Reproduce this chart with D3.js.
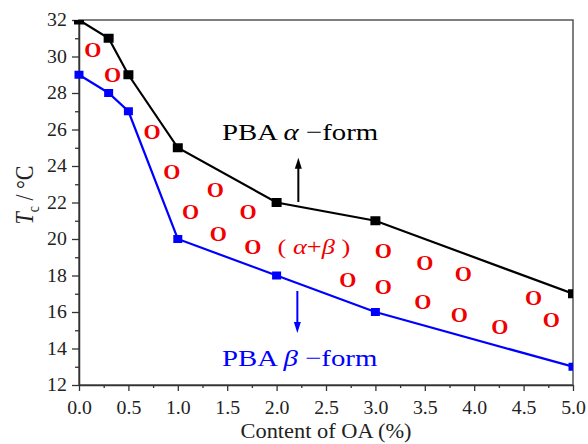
<!DOCTYPE html>
<html>
<head>
<meta charset="utf-8">
<script src="https://cdn.jsdelivr.net/npm/d3@7"></script>
<style>
  body { margin: 0; background: #fff; }
  svg text { font-family: 'Liberation Serif', 'DejaVu Serif', serif; }
</style>
</head>
<body>
<div id="chart"></div>
<script>
// ── Data ──
const oaContent = [0, 0.3, 0.5, 1, 2, 3, 5];
const alphaTc = [32, 31, 29, 25, 22, 21, 17];
const betaTc = [29, 28, 27, 20, 18, 16, 13];

// "O" marks inside the alpha+beta region
const mixX = [0.14, 0.34, 0.74, 0.94, 1.38, 1.13, 1.71, 1.41, 1.76, 3.08, 3.50, 3.89, 2.72, 3.08, 3.48, 3.85, 4.26, 4.60, 4.78];
const mixY = [30.4, 29.0, 25.9, 23.7, 22.7, 21.5, 21.5, 20.3, 19.6, 19.4, 18.7, 18.1, 17.8, 17.4, 16.6, 15.9, 15.2, 16.8, 15.6];

const xTicks = [0, 0.5, 1, 1.5, 2, 2.5, 3, 3.5, 4, 4.5, 5];
const xMinor = [0.25, 0.75, 1.25, 1.75, 2.25, 2.75, 3.25, 3.75, 4.25, 4.75];
const yTicks = [12, 14, 16, 18, 20, 22, 24, 26, 28, 30, 32];
const yMinor = [13, 15, 17, 19, 21, 23, 25, 27, 29, 31];

const SERIF = "'Liberation Serif', 'DejaVu Serif', serif";
const RED = '#f00000';
const BLUE = '#0000ff';

const width = 588, height = 444;
const margin = { top: 20, right: 15, bottom: 59, left: 79 };
const innerW = width - margin.left - margin.right;
const innerH = height - margin.top - margin.bottom;

const svg = d3.select('#chart').append('svg')
    .attr('width', width)
    .attr('height', height);

const g = svg.append('g').attr('transform', `translate(${margin.left},${margin.top})`);

const x = d3.scaleLinear().domain([0, 5]).range([0, innerW]);
const y = d3.scaleLinear().domain([12, 32]).range([innerH, 0]);

// ── Frame ──
g.append('rect')
    .attr('width', innerW).attr('height', innerH)
    .attr('fill', 'none').attr('stroke', '#555').attr('stroke-width', 1.5);

// ── Axes ──
function styleAxis(sel) {
    sel.attr('font-family', SERIF);
    sel.select('.domain').attr('stroke', '#333').attr('stroke-width', 1.5);
    sel.selectAll('.tick line').attr('stroke', '#333').attr('stroke-width', 1.3);
    sel.selectAll('text')
        .style('font-family', SERIF).attr('font-size', '18px').attr('fill', '#222')
        .attr('transform', 'scale(1.1,1)');
}

g.append('g').attr('transform', `translate(0,${innerH})`)
    .call(d3.axisBottom(x).tickValues(xMinor).tickSize(3).tickFormat('').tickSizeOuter(0))
    .call(s => s.select('.domain').remove())
    .selectAll('line').attr('stroke', '#333').attr('stroke-width', 1.3);

g.append('g').attr('transform', `translate(0,${innerH})`)
    .call(d3.axisBottom(x).tickValues(xTicks).tickFormat(d3.format('.1f'))
        .tickSize(6).tickPadding(10).tickSizeOuter(0))
    .call(styleAxis);

g.append('g')
    .call(d3.axisLeft(y).tickValues(yMinor).tickSize(4).tickFormat('').tickSizeOuter(0))
    .call(s => s.select('.domain').remove())
    .selectAll('line').attr('stroke', '#333').attr('stroke-width', 1.3);

g.append('g')
    .call(d3.axisLeft(y).tickValues(yTicks).tickFormat(d3.format('d'))
        .tickSize(7).tickPadding(4).tickSizeOuter(0))
    .call(styleAxis);

// ── Axis titles ──
g.append('text')
    .attr('transform', `translate(${innerW / 2},${height - margin.top - 6}) scale(1.12,1)`)
    .attr('text-anchor', 'middle')
    .style('font-family', SERIF).attr('font-size', '20px').attr('fill', '#222')
    .text('Content of OA (%)');

const yTitle = g.append('text')
    .attr('transform', `translate(${33 - margin.left},${195 - margin.top}) rotate(-90) scale(1,1.15)`)
    .attr('text-anchor', 'middle')
    .style('font-family', SERIF).attr('font-size', '22px').attr('fill', '#222');
yTitle.append('tspan').attr('font-style', 'italic').text('T');
yTitle.append('tspan').attr('font-size', '14px').attr('dy', 5).text('c');
yTitle.append('tspan').attr('dy', -5).text(' / °C');

// ── Series ──
const plot = g.append('g').attr('clip-path', 'url(#plot-clip)');
svg.append('defs').append('clipPath').attr('id', 'plot-clip')
    .append('rect').attr('x', -8).attr('y', 0).attr('width', innerW + 8).attr('height', innerH);

const line = d3.line().x(d => x(d[0])).y(d => y(d[1]));

function drawSeries(vals, color, w, h) {
    const pts = oaContent.map((v, i) => [v, vals[i]]);
    plot.append('path')
        .datum(pts)
        .attr('d', line)
        .attr('fill', 'none')
        .attr('stroke', color)
        .attr('stroke-width', 2.2);
    plot.append('g').selectAll('rect')
        .data(pts)
        .join('rect')
        .attr('x', d => x(d[0]) - w / 2)
        .attr('y', d => y(d[1]) - h / 2)
        .attr('width', w).attr('height', h)
        .attr('fill', color);
}
drawSeries(alphaTc, '#000', 10, 9);
drawSeries(betaTc, BLUE, 9, 8);

// ── "O" marks ──
g.append('g').selectAll('text')
    .data(mixX.map((v, i) => [v, mixY[i]]))
    .join('text')
    .attr('x', d => x(d[0]))
    .attr('y', d => y(d[1]))
    .attr('dy', '0.35em')
    .attr('text-anchor', 'middle')
    .style('font-family', SERIF).attr('font-size', '22px').attr('font-weight', 'bold')
    .attr('fill', RED)
    .text('O');

// ── Annotations ──
function label(px, py, color, parts, size) {
    const t = g.append('text')
        .attr('transform', `translate(${px},${py}) scale(1.2,1)`)
        .style('font-family', SERIF).attr('font-size', size + 'px').attr('fill', color);
    parts.forEach(p => {
        const s = t.append('tspan').text(p.t);
        if (p.i) s.attr('font-style', 'italic');
    });
}
label(x(1.447), y(25.45), '#000', [{ t: 'PBA ' }, { t: 'α', i: 1 }, { t: ' −form' }], 24);
label(x(2.01), y(19.2), RED, [{ t: '( ' }, { t: 'α', i: 1 }, { t: '+' }, { t: 'β', i: 1 }, { t: ' )' }], 22);
label(x(1.447), y(13.05), BLUE, [{ t: 'PBA ' }, { t: 'β', i: 1 }, { t: ' −form' }], 24);

function arrow(xv, y0, y1, color) {
    const ax = x(xv), a = y(y0), b = y(y1);
    const dir = b < a ? 1 : -1;
    g.append('line')
        .attr('x1', ax).attr('x2', ax)
        .attr('y1', a).attr('y2', b + dir * 8)
        .attr('stroke', color).attr('stroke-width', 2);
    g.append('path')
        .attr('d', `M${ax},${b}L${ax - 3.5},${b + dir * 11}L${ax + 3.5},${b + dir * 11}Z`)
        .attr('fill', color);
}
arrow(2.22, 22.03, 24.45, '#000');
arrow(2.21, 17.15, 14.85, BLUE);
</script>
</body>
</html>
